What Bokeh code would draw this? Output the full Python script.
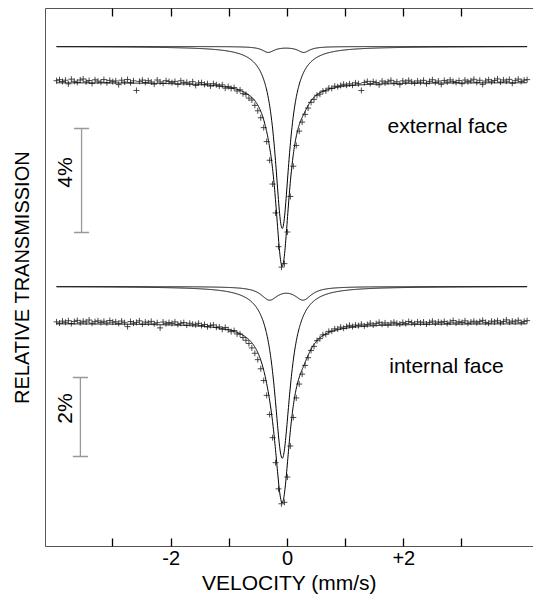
import numpy as np
from math import pi
from bokeh.plotting import figure
from bokeh.models import Range1d, LinearAxis, FixedTicker, Label
from bokeh.embed import file_html
from bokeh.resources import INLINE

# ---------------- data ----------------
# velocity channels (mm/s)
v_start, v_end, n_chan = -3.97, 4.12, 160

# residuals of the measured points from the fitted envelope (% transmission)
top_resid = [
    0.08, 0.12, 0.05, 0.10, -0.04, 0.14, 0.06, 0.02, 0.11, 0.15, 0.04, 0.09, -0.02, 0.12, 0.07, 0.03, 0.13, 0.01, 0.10, 0.05,
    0.08, -0.06, 0.11, 0.04, 0.14, 0.02, 0.09, -0.28, 0.07, 0.12, 0.03, 0.10, 0.05, -0.03, 0.13, 0.06, 0.01, 0.11, 0.08, 0.04,
    0.09, -0.02, 0.12, 0.05, 0.07, 0.01, 0.10, -0.04, 0.06, 0.08, 0.02, 0.05, -0.03, 0.07, 0.04, 0.00, 0.06, -0.05, 0.03, -0.02,
    0.04, -0.06, 0.02, -0.08, -0.05, -0.12, -0.10, -0.18, -0.22, -0.25, -0.30, -0.38, -0.50, -0.58, -0.48, -0.30, -0.08, -0.32, -0.50, -0.56,
    -0.45, -0.35, -0.24, -0.18, -0.12, -0.10, -0.06, -0.08, -0.02, -0.05, 0.01, -0.03, 0.04, 0.00, 0.06, 0.02, 0.05, 0.08, 0.03, 0.07,
    0.01, 0.09, 0.05, -0.22, 0.08, 0.12, 0.03, 0.10, 0.06, -0.03, 0.11, 0.04, 0.08, 0.13, 0.02, 0.07, -0.04, 0.10, 0.05, 0.12,
    0.06, 0.01, 0.09, 0.04, 0.11, -0.02, 0.07, 0.13, 0.03, 0.08, -0.05, 0.10, 0.04, 0.12, 0.06, 0.02, 0.09, -0.03, 0.11, 0.05,
    0.08, 0.14, 0.02, 0.10, -0.06, 0.07, 0.12, 0.04, 0.09, 0.15, 0.03, 0.11, 0.06, 0.13, -0.02, 0.08, 0.14, 0.05, 0.10, 0.12,
]
bot_resid = [
    0.05, 0.02, 0.07, 0.04, 0.08, 0.01, 0.06, 0.09, 0.03, 0.07, 0.05, 0.10, 0.02, 0.06, 0.08, 0.04, 0.07, 0.03, 0.09, 0.05,
    0.06, 0.02, 0.08, 0.04, -0.06, 0.07, 0.03, 0.05, 0.09, 0.01, 0.06, 0.04, 0.08, 0.02, 0.05, -0.08, 0.07, 0.03, 0.06, 0.04,
    0.08, 0.02, 0.05, 0.07, 0.01, 0.06, 0.04, 0.03, 0.07, 0.02, 0.05, 0.00, 0.04, 0.06, 0.01, 0.03, -0.02, 0.04, 0.00, -0.03,
    0.02, -0.04, -0.01, -0.06, -0.08, -0.10, -0.13, -0.16, -0.18, -0.22, -0.26, -0.30, -0.36, -0.40, -0.32, -0.18, -0.05, -0.22, -0.34, -0.38,
    -0.30, -0.24, -0.17, -0.12, -0.08, -0.06, -0.03, -0.05, 0.00, -0.02, 0.02, -0.01, 0.03, 0.01, 0.04, 0.02, 0.05, 0.01, 0.04, 0.06,
    0.02, 0.05, 0.03, 0.06, 0.01, 0.04, 0.07, 0.02, 0.05, 0.08, 0.03, 0.06, 0.01, 0.05, 0.07, 0.04, 0.02, 0.06, 0.03, 0.08,
    0.05, 0.02, 0.07, 0.04, 0.06, 0.01, 0.05, 0.08, 0.03, 0.06, 0.04, 0.07, 0.02, 0.05, 0.09, 0.03, 0.06, 0.04, 0.08, 0.02,
    0.05, 0.07, 0.03, 0.06, 0.09, 0.04, 0.02, 0.07, 0.05, 0.08, 0.03, 0.06, 0.10, 0.04, 0.07, 0.05, 0.09, 0.03, 0.06, 0.08,
]

# fitted components: singlet + quadrupole doublet (centre mm/s, FWHM mm/s, depth %)
top_singlet_center, top_singlet_width, top_singlet_depth = -0.09, 0.30, 7.0
top_doublet_centers, top_doublet_width, top_doublet_depth = [-0.33, 0.28], 0.25, 0.22
bot_singlet_center, bot_singlet_width, bot_singlet_depth = -0.09, 0.33, 4.35
bot_doublet_centers, bot_doublet_width, bot_doublet_depth = [-0.31, 0.27], 0.35, 0.32

x_ticks = [-2, 0, 2]
x_minor_ticks = [-3, -1, 1, 3]
x_all_ticks = [-3, -2, -1, 0, 1, 2, 3]
x_tick_labels = {-2: "-2", 0: "0", 2: "+2"}
x_title = "VELOCITY (mm/s)"
y_title = "RELATIVE TRANSMISSION"

spectrum_labels = ["external face", "internal face"]
scale_labels = ["4%", "2%"]
scale_pcts = [4, 2]

# ---------------- layout (display units) ----------------
top_data_base, top_comp_base, top_scale = -74.0, -38.0, 26.0
bot_data_base, bot_comp_base, bot_scale = -315.0, -278.0, 39.5

FONT = "Liberation Sans"


def lor(v, c, w):
    return 1.0 / (1.0 + (2.0 * (v - c) / w) ** 2)


v_ch = np.linspace(v_start, v_end, n_chan)
v_fine = np.linspace(v_start, v_end, 1600)

p = figure(width=533, height=598, output_backend="svg", toolbar_location=None,
           x_range=Range1d(-4.16, 4.23), y_range=Range1d(-538, 0),
           min_border_left=45, min_border_right=0, min_border_top=8, min_border_bottom=52)
p.background_fill_color = "white"
p.border_fill_color = "white"
p.outline_line_color = None
p.grid.visible = False


def style_ticks(ax):
    ax.major_tick_in = 8
    ax.major_tick_out = 0
    ax.minor_tick_in = 8
    ax.minor_tick_out = 0
    ax.major_tick_line_color = "black"
    ax.minor_tick_line_color = "black"
    ax.major_tick_line_width = 1.3
    ax.minor_tick_line_width = 1.3
    ax.axis_line_color = "#555555"


# ---- bottom axis ----
bx = p.xaxis[0]
bx.ticker = FixedTicker(ticks=x_ticks, minor_ticks=x_minor_ticks)
bx.major_label_overrides = x_tick_labels
style_ticks(bx)
bx.major_label_text_font = FONT
bx.major_label_text_font_size = "20px"
bx.major_label_text_color = "black"
bx.major_label_standoff = 4
bx.axis_label = x_title
bx.axis_label_text_font = FONT
bx.axis_label_text_font_size = "21px"
bx.axis_label_text_font_style = "normal"
bx.axis_label_text_color = "black"
bx.axis_label_standoff = 3

# ---- top axis: ticks only (all as minor ticks, so no labels) ----
tx = LinearAxis(ticker=FixedTicker(ticks=[], minor_ticks=x_all_ticks))
style_ticks(tx)
tx.major_label_standoff = 0
p.add_layout(tx, "above")

# ---- left axis: line + title only ----
ly = p.yaxis[0]
ly.ticker = FixedTicker(ticks=[])
ly.axis_line_color = "#555555"
ly.major_tick_line_color = None
ly.minor_tick_line_color = None
ly.axis_label = y_title
ly.axis_label_text_font = FONT
ly.axis_label_text_font_size = "20px"
ly.axis_label_text_font_style = "normal"
ly.axis_label_text_color = "black"
ly.axis_label_standoff = 13

# ---- spectra ----
spectra = [
    (top_singlet_center, top_singlet_width, top_singlet_depth, top_doublet_centers, top_doublet_width,
     top_doublet_depth, top_resid, top_data_base, top_comp_base, top_scale),
    (bot_singlet_center, bot_singlet_width, bot_singlet_depth, bot_doublet_centers, bot_doublet_width,
     bot_doublet_depth, bot_resid, bot_data_base, bot_comp_base, bot_scale),
]

for (sc, sw, sd, dcs, dw, dd, resid, dbase, cbase, scale) in spectra:
    S_f = sd * lor(v_fine, sc, sw)
    D_f = dd * sum(lor(v_fine, c, dw) for c in dcs)
    S_c = sd * lor(v_ch, sc, sw)
    D_c = dd * sum(lor(v_ch, c, dw) for c in dcs)
    data_T = -(S_c + D_c) + np.array(resid)
    # components (offset upward)
    p.line(v_fine, cbase - scale * D_f, line_color="black", line_width=1.0)
    p.line(v_fine, cbase - scale * S_f, line_color="black", line_width=1.0)
    # measured points
    p.scatter(v_ch, dbase + scale * data_T, marker="cross", size=6,
              line_color="#222222", line_width=0.9, line_alpha=0.9)
    # envelope fit
    p.line(v_fine, dbase - scale * (S_f + D_f), line_color="black", line_width=1.0)

# ---- scale bars ----
bar_x = [-3.54, -3.56]
bar_top = [-120.0, -369.0]
bar_scale = [top_scale, bot_scale]
cap = 0.13
for bx_, bt, bs, pct in zip(bar_x, bar_top, bar_scale, scale_pcts):
    bb = bt - pct * bs
    p.segment(x0=[bx_, bx_ - cap, bx_ - cap], y0=[bt, bt, bb],
              x1=[bx_, bx_ + cap, bx_ + cap], y1=[bb, bt, bb],
              line_color="#999999", line_width=1.3)

for lbl, lx, lyv in zip(scale_labels, [-3.84, -3.84], [-164.0, -400.0]):
    p.add_layout(Label(x=lx, y=lyv, text=lbl, angle=pi / 2, text_align="center",
                       text_baseline="middle", text_font=FONT, text_font_size="21px",
                       text_color="black"))

for lbl, lx, lyv in zip(spectrum_labels, [1.72, 1.75], [-117.0, -357.0]):
    p.add_layout(Label(x=lx, y=lyv, text=lbl, text_align="left", text_baseline="middle",
                       text_font=FONT, text_font_size="21px", text_color="black"))

open("out.html", "w").write(file_html(p, INLINE))
